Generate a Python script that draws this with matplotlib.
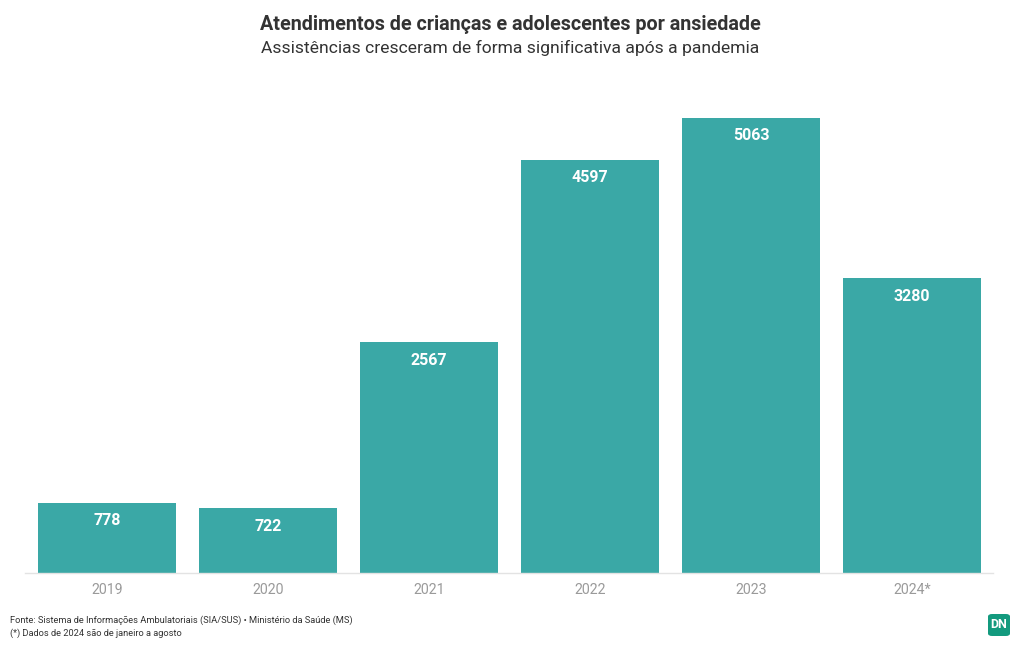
import matplotlib
matplotlib.use("Agg")
import matplotlib.pyplot as plt
from matplotlib.patches import FancyBboxPatch

plt.rcParams['font.family'] = ['Roboto', 'DejaVu Sans']

categories = ["2019", "2020", "2021", "2022", "2023", "2024*"]
values = [778, 722, 2567, 4597, 5063, 3280]
labels = ["778", "722", "2567", "4597", "5063", "3280"]

title = "Atendimentos de crianças e adolescentes por ansiedade"
subtitle = "Assistências cresceram de forma significativa após a pandemia"
source = "Fonte: Sistema de Informações Ambulatoriais (SIA/SUS) • Ministério da Saúde (MS)"
note = "(*) Dados de 2024 são de janeiro a agosto"

bar_color = "#3AA8A6"

W, H = 1020, 650
fig = plt.figure(figsize=(W/100, H/100), dpi=100)
ax_left, ax_right = 25/W, 993/W
ax_bottom, ax_top = 1 - 573/H, 1 - 95/H
ax = fig.add_axes([ax_left, ax_bottom, ax_right - ax_left, ax_top - ax_bottom])

x = list(range(len(categories)))
ax.bar(x, values, width=0.857, color=bar_color, zorder=2)
ax.set_xlim(-0.509, 5.503)
ax.set_ylim(0, 5063 * 478 / 455)

for xi, v, lab in zip(x, values, labels):
    ax.annotate(lab, (xi, v), xytext=(0, -7.5), textcoords="offset points",
                ha="center", va="top", color="white", fontsize=11.5,
                fontweight="bold", zorder=3)

ax.set_xticks(x)
ax.set_xticklabels(categories, color="#9a9a9a", fontsize=10.2)
ax.tick_params(axis="x", length=0, pad=7)
ax.set_yticks([])
for s in ["top", "right", "left"]:
    ax.spines[s].set_visible(False)
ax.spines["bottom"].set_color("#e3e3e3")
ax.spines["bottom"].set_linewidth(1)

fig.text(0.5, 1 - 24/H, title, ha="center", va="center", fontsize=14.2,
         fontweight="bold", color="#333333")
fig.text(0.5, 1 - 48/H, subtitle, ha="center", va="center", fontsize=12.6,
         color="#333333")
fig.text(10/W, 1 - 620/H, source, ha="left", va="center", fontsize=6.7, color="#333333")
fig.text(10/W, 1 - 633/H, note, ha="left", va="center", fontsize=6.7, color="#333333")

# logo
lx, ly, lw, lh = 988/W, 1 - 636/H, 22/W, 22/H
logo = FancyBboxPatch((lx, ly), lw, lh, boxstyle="round,pad=0,rounding_size=0.004",
                      transform=fig.transFigure, facecolor="#139A7E", edgecolor="none")
fig.patches.append(logo)
fig.text(lx + lw/2, ly + lh/2, "DN", ha="center", va="center", fontsize=9,
         fontweight="bold", color="white")

fig.savefig("out.png", dpi=100, facecolor="white")
